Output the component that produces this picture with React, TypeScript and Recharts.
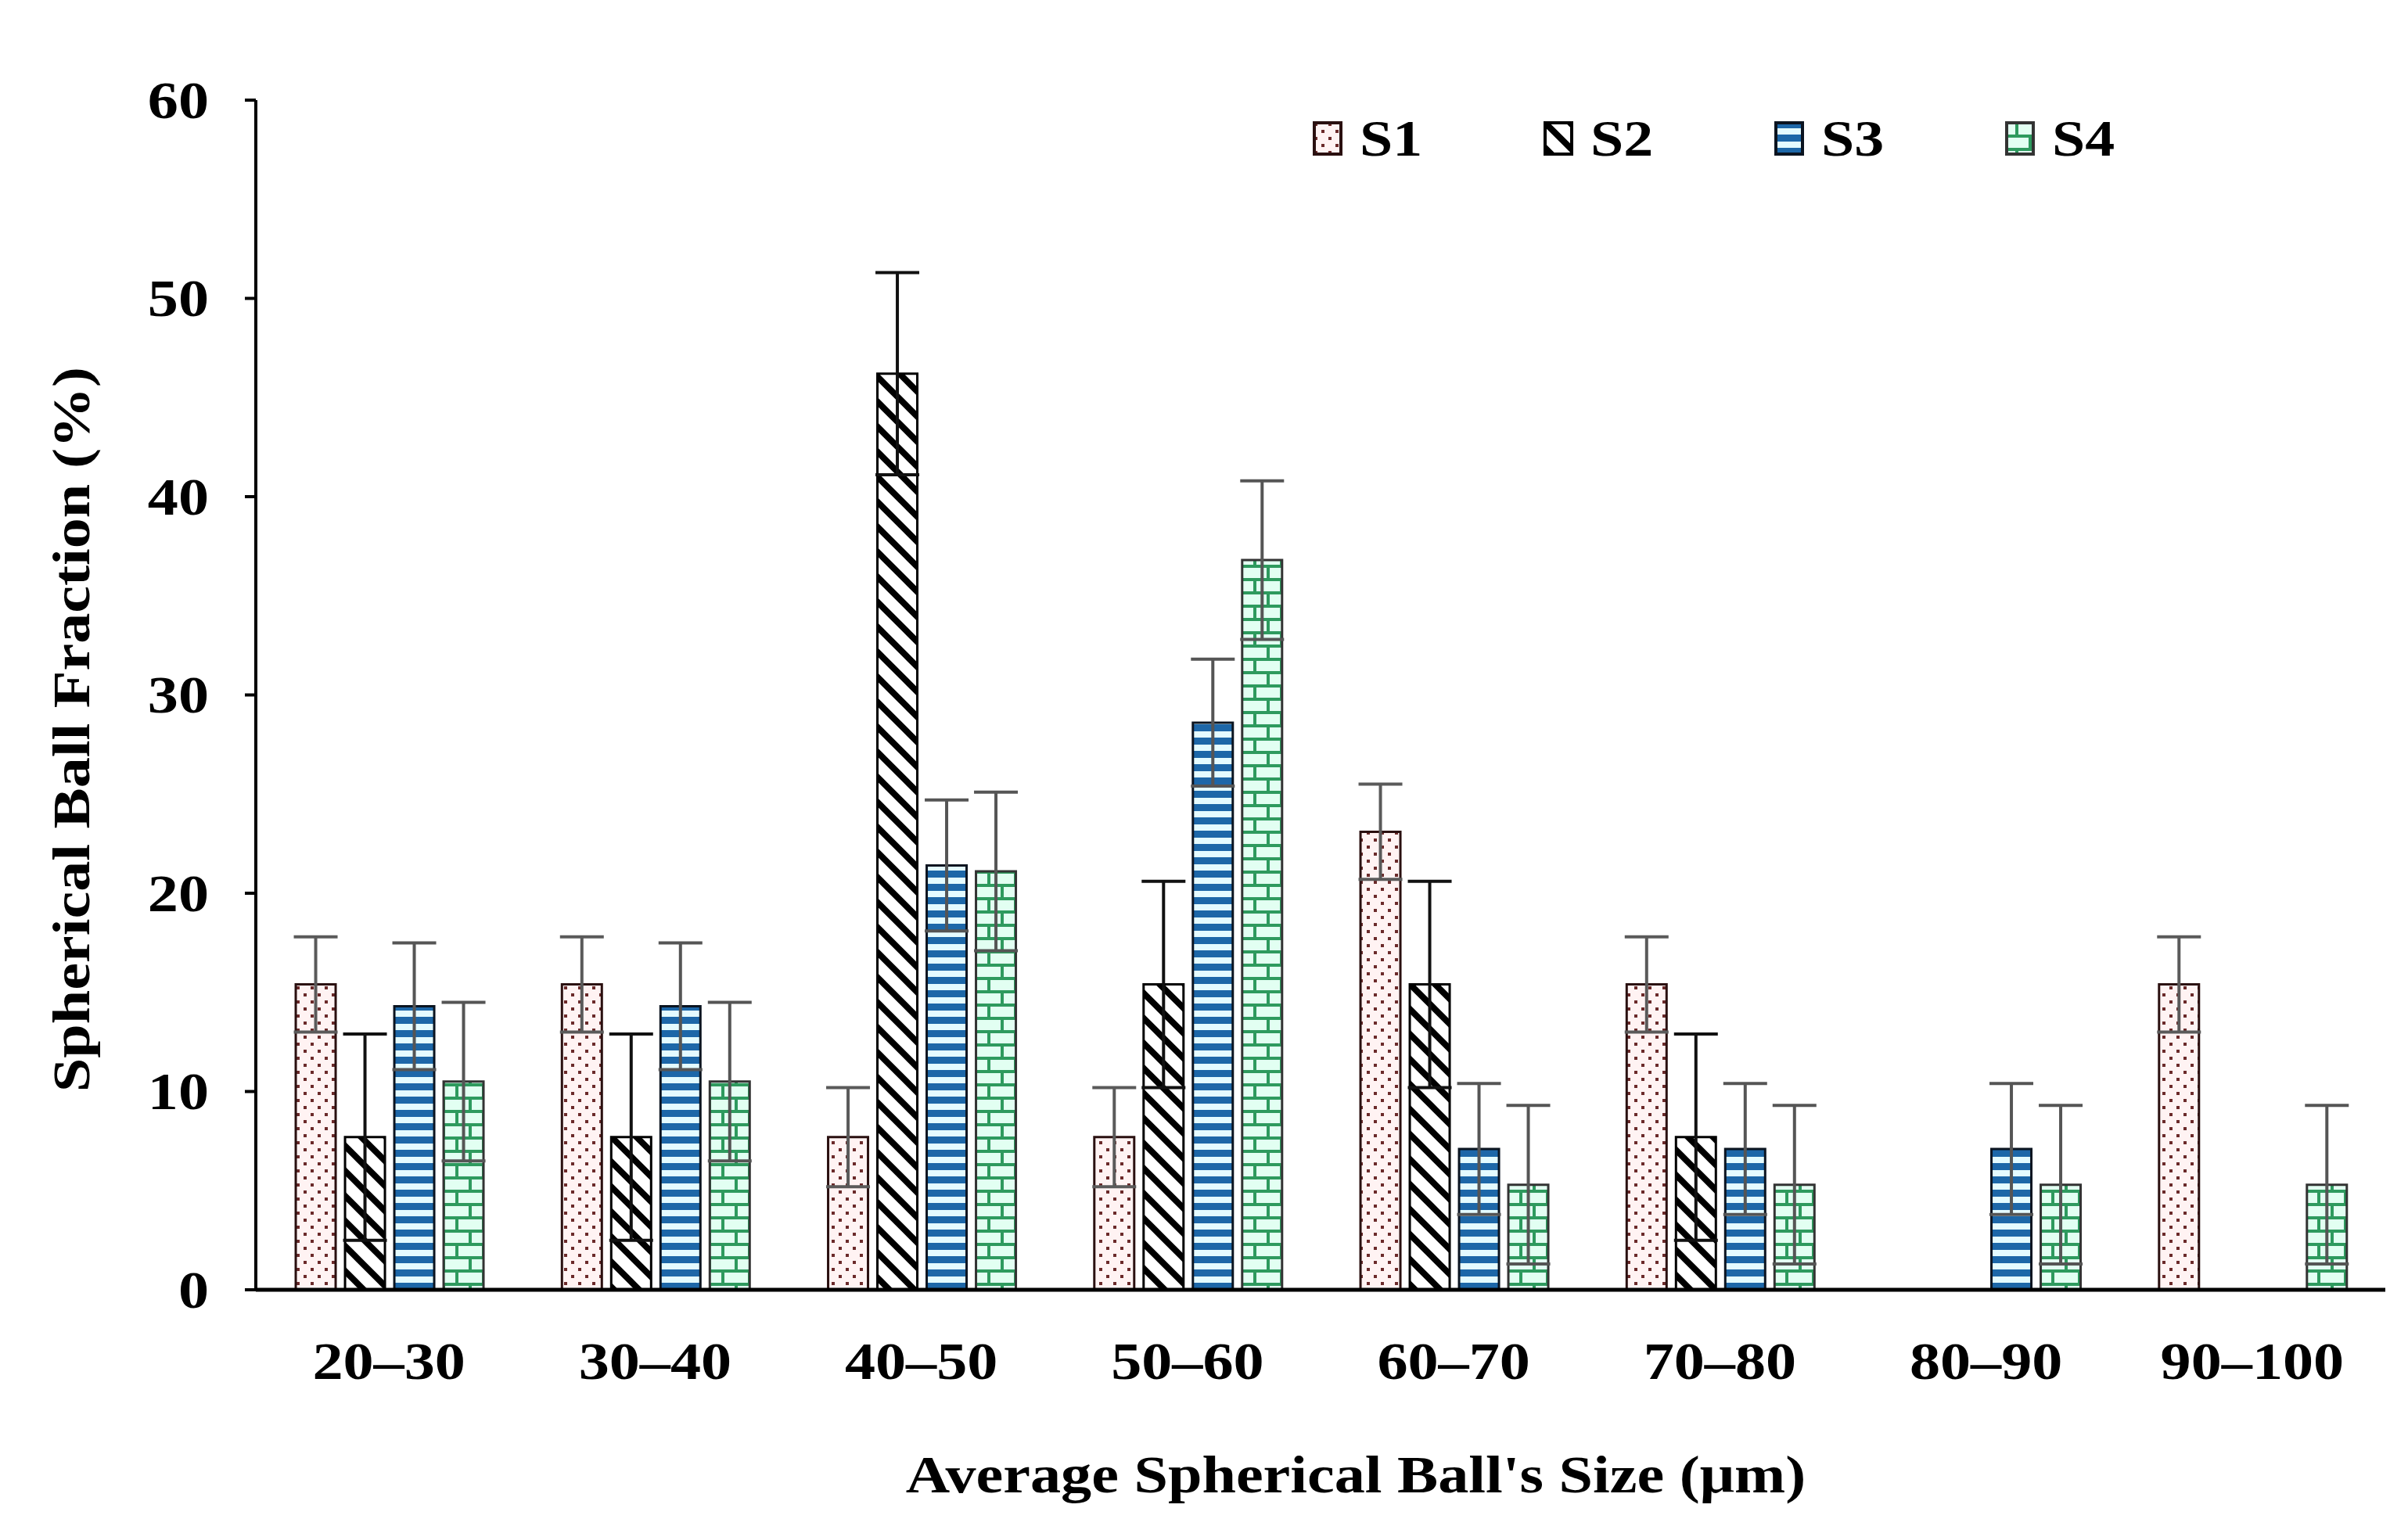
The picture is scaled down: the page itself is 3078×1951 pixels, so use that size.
import React from 'react'
import { BarChart, Bar, XAxis, YAxis, ErrorBar, Legend } from 'recharts'

const categories = ['20–30', '30–40', '40–50', '50–60', '60–70', '70–80', '80–90', '90–100']
const s1 = [15.4, 15.4, 7.7, 7.7, 23.1, 15.4, null, 15.4]
const s2 = [7.7, 7.7, 46.2, 15.4, 15.4, 7.7, null, null]
const s3 = [14.3, 14.3, 21.4, 28.6, 7.1, 7.1, 7.1, null]
const s4 = [10.5, 10.5, 21.1, 36.8, 5.3, 5.3, 5.3, 5.3]
const s1Err = [2.4, 2.4, 2.5, 2.5, 2.4, 2.4, null, 2.4]
const s2Err = [5.2, 5.2, 5.1, 5.2, 5.2, 5.2, null, null]
const s3Err = [3.2, 3.2, 3.3, 3.2, 3.3, 3.3, 3.3, null]
const s4Err = [4.0, 4.0, 4.0, 4.0, 4.0, 4.0, 4.0, 4.0]
const yTicks = [0, 10, 20, 30, 40, 50, 60]

const FONT = '"Liberation Serif", "Times New Roman", serif'
const FS = 68
const SX = 1.15 // the reference lettering is a bit stretched sideways

const SERIES = [
  { key: 's1', name: 'S1', fill: 'url(#pat-dots)', stroke: '#2a1010', err: '#5a5a5a' },
  { key: 's2', name: 'S2', fill: 'url(#pat-diag)', stroke: '#000', err: '#111' },
  { key: 's3', name: 'S3', fill: 'url(#pat-hstripe)', stroke: '#0b1420', err: '#555' },
  { key: 's4', name: 'S4', fill: 'url(#pat-brick)', stroke: '#333', err: '#555' },
]

const data = categories.map((c, i) => ({
  cat: c,
  s1: s1[i], s2: s2[i], s3: s3[i], s4: s4[i],
  s1Err: s1Err[i], s2Err: s2Err[i], s3Err: s3Err[i], s4Err: s4Err[i],
}))

function Patterns() {
  return (
    <svg width={0} height={0} style={{ position: 'absolute' }}>
      <defs>
        <pattern id="pat-dots" width={18} height={18} patternUnits="userSpaceOnUse">
          <rect width={18} height={18} fill="#fff3f3" />
          <rect x={2} y={2} width={4} height={4} fill="#6b2a2a" />
          <rect x={11} y={11} width={4} height={4} fill="#6b2a2a" />
        </pattern>
        <pattern id="pat-diag" width={32} height={32} patternUnits="userSpaceOnUse">
          <rect width={32} height={32} fill="#fff" />
          <path d="M-8,-8 L40,40 M-8,24 L8,40 M24,-8 L40,8" stroke="#000" strokeWidth={8} />
        </pattern>
        <pattern id="pat-hstripe" width={17} height={17} patternUnits="userSpaceOnUse">
          <rect width={17} height={17} fill="#e4fbff" />
          <rect y={0} width={17} height={9} fill="#1d67a8" />
        </pattern>
        <pattern id="pat-brick" width={34} height={34} patternUnits="userSpaceOnUse">
          <rect width={34} height={34} fill="#e2fff2" />
          <rect y={0} width={34} height={4} fill="#2e9a5e" />
          <rect y={17} width={34} height={4} fill="#2e9a5e" />
          <rect x={13} y={0} width={4} height={17} fill="#2e9a5e" />
          <rect x={30} y={17} width={4} height={17} fill="#2e9a5e" />
        </pattern>
      </defs>
    </svg>
  )
}

const renderLegend = () => (
  <div style={{ position: 'relative', height: 70 }}>
    {SERIES.map((s, i) => (
      <div key={s.key} style={{ position: 'absolute', left: i * 295, top: 0, display: 'flex', alignItems: 'center' }}>
        <svg width={40} height={44} style={{ marginRight: 20 }}>
          <rect x={2} y={2} width={34} height={40} fill={s.fill} stroke={s.stroke} strokeWidth={4} />
        </svg>
        <span
          style={{
            fontFamily: FONT, fontWeight: 'bold', fontSize: FS - 2, color: '#000', lineHeight: '70px',
            display: 'inline-block', transform: `scaleX(${SX})`, transformOrigin: 'left center',
          }}
        >
          {s.name}
        </span>
      </div>
    ))}
  </div>
)

const XTick = (props: any) => {
  const { x, y, payload } = props
  return (
    <text transform={`translate(${x}, ${y + 114}) scale(${SX}, 1)`} textAnchor="middle" fontFamily={FONT} fontWeight="bold" fontSize={FS} fill="#000">
      {payload.value}
    </text>
  )
}

const YTick = (props: any) => {
  const { x, y, payload } = props
  return (
    <text transform={`translate(${x}, ${y}) scale(${SX}, 1)`} textAnchor="end" dominantBaseline="central" fontFamily={FONT} fontWeight="bold" fontSize={FS} fill="#000">
      {payload.value}
    </text>
  )
}

export default function App() {
  return (
    <div style={{ width: 3062, height: 1935, background: '#fff', position: 'relative' }}>
      <Patterns />
      <BarChart
        width={3062}
        height={1935}
        data={data}
        margin={{ top: 50, right: 21, bottom: 144, left: 169 }}
        barCategoryGap="15%"
        barGap={12}
      >
        <XAxis
          dataKey="cat"
          height={150}
          tickLine={false}
          tickSize={0}
          tickMargin={0}
          axisLine={{ stroke: '#000', strokeWidth: 5 }}
          tick={<XTick />}
          interval={0}
          label={{
            content: (p: any) => {
              const vb = p.viewBox
              const cx = vb.x + vb.width / 2 + 45
              const cy = vb.y + 259
              return (
                <text transform={`translate(${cx}, ${cy}) scale(${SX}, 1)`} textAnchor="middle" fontFamily={FONT} fontWeight="bold" fontSize={FS} fill="#000">
                  Average Spherical Ball's Size (μm)
                </text>
              )
            },
          }}
        />
        <YAxis
          width={150}
          domain={[0, 60]}
          ticks={yTicks}
          interval={0}
          tickSize={14}
          tickMargin={46}
          tickLine={{ stroke: '#000', strokeWidth: 4 }}
          axisLine={{ stroke: '#000', strokeWidth: 4 }}
          tick={<YTick />}
          label={{
            content: (p: any) => {
              const vb = p.viewBox
              const cx = vb.x - 86
              const cy = vb.y + vb.height / 2 + 44
              return (
                <text transform={`translate(${cx}, ${cy}) rotate(-90) scale(${SX}, 1)`} textAnchor="middle" dominantBaseline="central" fontFamily={FONT} fontWeight="bold" fontSize={FS} fill="#000">
                  Spherical Ball Fraction (%)
                </text>
              )
            },
          }}
        />
        <Legend
          verticalAlign="top"
          content={renderLegend}
          wrapperStyle={{ position: 'absolute', top: 134, left: 1670, width: 1200 }}
        />
        {SERIES.map(s => (
          <Bar
            key={s.key}
            dataKey={s.key}
            name={s.name}
            fill={s.fill}
            stroke={s.stroke}
            strokeWidth={3}
            isAnimationActive={false}
          >
            <ErrorBar dataKey={`${s.key}Err`} direction="y" width={28} strokeWidth={4} stroke={s.err} />
          </Bar>
        ))}
      </BarChart>
    </div>
  )
}
